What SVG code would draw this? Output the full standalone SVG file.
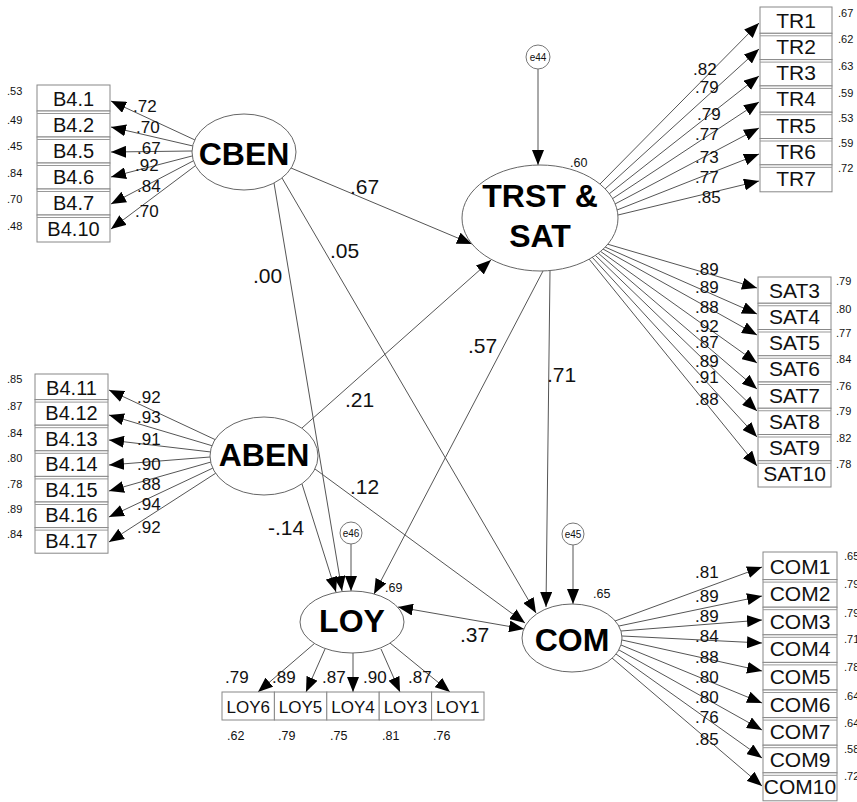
<svg xmlns="http://www.w3.org/2000/svg" width="857" height="802" viewBox="0 0 857 802">
  <defs>
    <marker id="ah" viewBox="0 0 15 12" refX="15" refY="6" markerWidth="15" markerHeight="12" markerUnits="userSpaceOnUse" orient="auto-start-reverse">
      <path d="M0,0 L15,6 L0,12 z" fill="#000"/>
    </marker>
  </defs>
  <style>
    text { font-family: "Liberation Sans", Arial, sans-serif; fill: #111; }
    .lat { font-size: 32px; font-weight: bold; text-anchor: middle; fill: #000; }
    .ell { fill: #fff; stroke: #666; stroke-width: 1; }
    .err { fill: #fff; stroke: #777; stroke-width: 1; }
    .etx { font-size: 10px; text-anchor: middle; }
    .box { fill: #fff; stroke: #888; stroke-width: 1; }
    .sep { stroke: #999; stroke-width: 1; }
    .bl { font-size: 20px; text-anchor: middle; }
    .br { font-size: 21px; text-anchor: middle; }
    .bs { font-size: 17px; text-anchor: middle; }
    .sm { font-size: 11px; }
    .sq { font-size: 12.5px; }
    .ld { font-size: 17px; }
    .pc { font-size: 21px; }
    .cn line { stroke: #555; stroke-width: 1; marker-end: url(#ah); }
  </style>
  <rect width="857" height="802" fill="#fff"/>

  <!-- connectors: loadings, structural paths, error terms -->
  <g id="connectors" class="cn">
    <!-- CBEN loadings -->
    <line x1="195" y1="140" x2="111" y2="101"/>
    <line x1="193" y1="146" x2="111" y2="127"/>
    <line x1="192" y1="151" x2="111" y2="152"/>
    <line x1="192" y1="156" x2="111" y2="177"/>
    <line x1="193" y1="161" x2="111" y2="204"/>
    <line x1="195" y1="166" x2="111" y2="229"/>
    <!-- ABEN loadings -->
    <line x1="216" y1="440" x2="109" y2="390"/>
    <line x1="213" y1="446" x2="109" y2="415"/>
    <line x1="211" y1="452" x2="109" y2="440"/>
    <line x1="210" y1="457" x2="109" y2="465"/>
    <line x1="211" y1="462" x2="109" y2="491"/>
    <line x1="213" y1="468" x2="109" y2="517"/>
    <line x1="216" y1="473" x2="109" y2="542"/>
    <!-- TRST & SAT loadings (trust) -->
    <line x1="600" y1="184" x2="759" y2="23"/>
    <line x1="605" y1="189" x2="759" y2="49"/>
    <line x1="609" y1="194" x2="759" y2="76"/>
    <line x1="612" y1="199" x2="759" y2="102"/>
    <line x1="615" y1="204" x2="759" y2="128"/>
    <line x1="617" y1="210" x2="759" y2="154"/>
    <line x1="618" y1="215" x2="759" y2="181"/>
    <!-- TRST & SAT loadings (satisfaction) -->
    <line x1="607" y1="244" x2="757" y2="288"/>
    <line x1="605" y1="247" x2="757" y2="314"/>
    <line x1="603" y1="249" x2="757" y2="335"/>
    <line x1="600" y1="251" x2="757" y2="363"/>
    <line x1="598" y1="253" x2="757" y2="389"/>
    <line x1="595" y1="255" x2="757" y2="411"/>
    <line x1="592" y1="257" x2="757" y2="437"/>
    <line x1="589" y1="259" x2="757" y2="466"/>
    <!-- COM loadings -->
    <line x1="615" y1="621" x2="762" y2="567"/>
    <line x1="619" y1="626" x2="762" y2="596"/>
    <line x1="621" y1="631" x2="762" y2="620"/>
    <line x1="622" y1="636" x2="762" y2="643"/>
    <line x1="622" y1="640" x2="762" y2="671"/>
    <line x1="621" y1="645" x2="762" y2="703"/>
    <line x1="619" y1="650" x2="762" y2="730"/>
    <line x1="616" y1="654" x2="762" y2="758"/>
    <line x1="612" y1="658" x2="762" y2="786"/>
    <!-- LOY loadings -->
    <line x1="315" y1="643" x2="258" y2="692"/>
    <line x1="325" y1="649" x2="306" y2="692"/>
    <line x1="353" y1="653" x2="353" y2="692"/>
    <line x1="381" y1="649" x2="400" y2="692"/>
    <line x1="390" y1="643" x2="450" y2="692"/>
    <!-- structural paths -->
    <line x1="291" y1="168" x2="472" y2="244"/>
    <line x1="302" y1="428" x2="491" y2="260"/>
    <line x1="274" y1="183" x2="342" y2="591"/>
    <line x1="282" y1="178" x2="536" y2="613"/>
    <line x1="543" y1="271" x2="374" y2="594"/>
    <line x1="550" y1="271" x2="546" y2="607"/>
    <line x1="302" y1="484" x2="336" y2="592"/>
    <line x1="315" y1="469" x2="525" y2="623"/>
    <line x1="398" y1="607" x2="524" y2="629" marker-start="url(#ah)"/>
    <!-- error terms -->
    <line x1="538" y1="69" x2="538" y2="165"/>
    <line x1="351" y1="544" x2="351" y2="591"/>
    <line x1="573" y1="545" x2="573" y2="604"/>

    <!-- path coefficients -->
    <text class="pc" x="350" y="194">.67</text>
    <text class="pc" x="345" y="407">.21</text>
    <text class="pc" x="253" y="283">.00</text>
    <text class="pc" x="330" y="258">.05</text>
    <text class="pc" x="468" y="353">.57</text>
    <text class="pc" x="547" y="382">.71</text>
    <text class="pc" x="268" y="535">-.14</text>
    <text class="pc" x="350" y="494">.12</text>
    <text class="pc" x="460" y="642">.37</text>

    <!-- loading coefficients -->
    <g class="ld">
      <text x="133" y="112">.72</text>
      <text x="136" y="133">.70</text>
      <text x="137" y="154">.67</text>
      <text x="135" y="171">.92</text>
      <text x="137" y="192">.84</text>
      <text x="135" y="217">.70</text>

      <text x="137" y="403">.92</text>
      <text x="137" y="423">.93</text>
      <text x="137" y="445">.91</text>
      <text x="137" y="470">.90</text>
      <text x="137" y="490">.88</text>
      <text x="137" y="510">.94</text>
      <text x="137" y="533">.92</text>

      <text x="693" y="75">.82</text>
      <text x="695" y="93">.79</text>
      <text x="697" y="120">.79</text>
      <text x="695" y="140">.77</text>
      <text x="695" y="163">.73</text>
      <text x="695" y="183">.77</text>
      <text x="697" y="203">.85</text>

      <text x="695" y="275">.89</text>
      <text x="695" y="293">.89</text>
      <text x="695" y="313">.88</text>
      <text x="695" y="332">.92</text>
      <text x="695" y="348">.87</text>
      <text x="695" y="367">.89</text>
      <text x="695" y="383">.91</text>
      <text x="695" y="405">.88</text>

      <text x="695" y="578">.81</text>
      <text x="695" y="602">.89</text>
      <text x="695" y="622">.89</text>
      <text x="695" y="642">.84</text>
      <text x="695" y="663">.88</text>
      <text x="695" y="683">.80</text>
      <text x="695" y="703">.80</text>
      <text x="695" y="723">.76</text>
      <text x="695" y="745">.85</text>

      <text x="225" y="683">.79</text>
      <text x="272" y="683">.89</text>
      <text x="322" y="683">.87</text>
      <text x="363" y="683">.90</text>
      <text x="408" y="683">.87</text>
    </g>
  </g>

  <!-- latent variables -->
  <g id="CBEN">
    <ellipse class="ell" cx="244" cy="152" rx="52" ry="38"/>
    <text class="lat" x="244" y="165">CBEN</text>
  </g>
  <g id="ABEN">
    <ellipse class="ell" cx="264" cy="456" rx="54" ry="39"/>
    <text class="lat" x="264" y="466">ABEN</text>
  </g>
  <g id="TRST_SAT">
    <ellipse class="ell" cx="540" cy="218" rx="78" ry="53"/>
    <text class="lat" x="540" y="207">TRST &amp;</text>
    <text class="lat" x="540" y="247">SAT</text>
    <text class="sq" x="570" y="167">.60</text>
  </g>
  <g id="LOY">
    <ellipse class="ell" cx="352" cy="622" rx="52" ry="31"/>
    <text class="lat" x="352" y="632">LOY</text>
    <text class="sq" x="385" y="592">.69</text>
  </g>
  <g id="COM">
    <ellipse class="ell" cx="572" cy="638" rx="50" ry="34"/>
    <text class="lat" x="572" y="651">COM</text>
    <text class="sq" x="593" y="598">.65</text>
  </g>

  <!-- error terms -->
  <g id="e44">
    <circle class="err" cx="538" cy="57" r="12"/>
    <text class="etx" x="538" y="61">e44</text>
  </g>
  <g id="e46">
    <circle class="err" cx="351" cy="533" r="11"/>
    <text class="etx" x="351" y="537">e46</text>
  </g>
  <g id="e45">
    <circle class="err" cx="573" cy="534" r="11"/>
    <text class="etx" x="573" y="538">e45</text>
  </g>

  <!-- CBEN indicators -->
  <g id="B4_1"><rect class="box" x="37" y="85" width="73" height="26"/><text class="bl" x="73.5" y="105.5">B4.1</text><text class="sm" x="7" y="95">.53</text></g>
  <g id="B4_2"><rect class="box" x="37" y="111" width="73" height="26"/><line class="sep" x1="37" y1="113.5" x2="110" y2="113.5"/><text class="bl" x="73.5" y="131.5">B4.2</text><text class="sm" x="7" y="124">.49</text></g>
  <g id="B4_5"><rect class="box" x="37" y="137" width="73" height="26"/><line class="sep" x1="37" y1="139.5" x2="110" y2="139.5"/><text class="bl" x="73.5" y="157.5">B4.5</text><text class="sm" x="7" y="150">.45</text></g>
  <g id="B4_6"><rect class="box" x="37" y="163" width="73" height="26"/><line class="sep" x1="37" y1="165.5" x2="110" y2="165.5"/><text class="bl" x="73.5" y="183.5">B4.6</text><text class="sm" x="7" y="177">.84</text></g>
  <g id="B4_7"><rect class="box" x="37" y="189" width="73" height="26"/><line class="sep" x1="37" y1="191.5" x2="110" y2="191.5"/><text class="bl" x="73.5" y="209.5">B4.7</text><text class="sm" x="7" y="203">.70</text></g>
  <g id="B4_10"><rect class="box" x="37" y="215" width="73" height="27"/><line class="sep" x1="37" y1="217.5" x2="110" y2="217.5"/><text class="bl" x="73.5" y="236">B4.10</text><text class="sm" x="7" y="230">.48</text></g>

  <!-- ABEN indicators -->
  <g id="B4_11"><rect class="box" x="35" y="374" width="73" height="25.6"/><text class="bl" x="71.5" y="394.5">B4.11</text><text class="sm" x="7" y="383">.85</text></g>
  <g id="B4_12"><rect class="box" x="35" y="399.6" width="73" height="25.6"/><line class="sep" x1="35" y1="402.1" x2="108" y2="402.1"/><text class="bl" x="71.5" y="420">B4.12</text><text class="sm" x="7" y="410">.87</text></g>
  <g id="B4_13"><rect class="box" x="35" y="425.2" width="73" height="25.6"/><line class="sep" x1="35" y1="427.7" x2="108" y2="427.7"/><text class="bl" x="71.5" y="445.5">B4.13</text><text class="sm" x="7" y="437">.84</text></g>
  <g id="B4_14"><rect class="box" x="35" y="450.8" width="73" height="25.6"/><line class="sep" x1="35" y1="453.3" x2="108" y2="453.3"/><text class="bl" x="71.5" y="471">B4.14</text><text class="sm" x="7" y="462">.80</text></g>
  <g id="B4_15"><rect class="box" x="35" y="476.4" width="73" height="25.6"/><line class="sep" x1="35" y1="478.9" x2="108" y2="478.9"/><text class="bl" x="71.5" y="496.7">B4.15</text><text class="sm" x="7" y="488">.78</text></g>
  <g id="B4_16"><rect class="box" x="35" y="502" width="73" height="25.6"/><line class="sep" x1="35" y1="504.5" x2="108" y2="504.5"/><text class="bl" x="71.5" y="522.3">B4.16</text><text class="sm" x="7" y="513">.89</text></g>
  <g id="B4_17"><rect class="box" x="35" y="527.6" width="73" height="25.6"/><line class="sep" x1="35" y1="530.1" x2="108" y2="530.1"/><text class="bl" x="71.5" y="548">B4.17</text><text class="sm" x="7" y="538">.84</text></g>

  <!-- trust indicators -->
  <g id="TR1"><rect class="box" x="760" y="7" width="72" height="26.3"/><text class="br" x="796" y="28">TR1</text><text class="sm" x="838" y="17">.67</text></g>
  <g id="TR2"><rect class="box" x="760" y="33.3" width="72" height="26.3"/><line class="sep" x1="760" y1="35.8" x2="832" y2="35.8"/><text class="br" x="796" y="54">TR2</text><text class="sm" x="838" y="43">.62</text></g>
  <g id="TR3"><rect class="box" x="760" y="59.6" width="72" height="26.3"/><line class="sep" x1="760" y1="62.1" x2="832" y2="62.1"/><text class="br" x="796" y="80">TR3</text><text class="sm" x="838" y="70">.63</text></g>
  <g id="TR4"><rect class="box" x="760" y="85.9" width="72" height="26.3"/><line class="sep" x1="760" y1="88.4" x2="832" y2="88.4"/><text class="br" x="796" y="106">TR4</text><text class="sm" x="838" y="97">.59</text></g>
  <g id="TR5"><rect class="box" x="760" y="112.2" width="72" height="26.3"/><line class="sep" x1="760" y1="114.7" x2="832" y2="114.7"/><text class="br" x="796" y="132.5">TR5</text><text class="sm" x="838" y="122">.53</text></g>
  <g id="TR6"><rect class="box" x="760" y="138.5" width="72" height="26.3"/><line class="sep" x1="760" y1="141" x2="832" y2="141"/><text class="br" x="796" y="159">TR6</text><text class="sm" x="838" y="147">.59</text></g>
  <g id="TR7"><rect class="box" x="760" y="164.8" width="72" height="27"/><line class="sep" x1="760" y1="167.3" x2="832" y2="167.3"/><text class="br" x="796" y="185.5">TR7</text><text class="sm" x="838" y="172">.72</text></g>

  <!-- satisfaction indicators -->
  <g id="SAT3"><rect class="box" x="758" y="277" width="73" height="26.25"/><text class="br" x="794.5" y="297.5">SAT3</text><text class="sm" x="836" y="285">.79</text></g>
  <g id="SAT4"><rect class="box" x="758" y="303.25" width="73" height="26.25"/><line class="sep" x1="758" y1="305.75" x2="831" y2="305.75"/><text class="br" x="794.5" y="323.75">SAT4</text><text class="sm" x="836" y="313">.80</text></g>
  <g id="SAT5"><rect class="box" x="758" y="329.5" width="73" height="26.25"/><line class="sep" x1="758" y1="332" x2="831" y2="332"/><text class="br" x="794.5" y="350">SAT5</text><text class="sm" x="836" y="337">.77</text></g>
  <g id="SAT6"><rect class="box" x="758" y="355.75" width="73" height="26.25"/><line class="sep" x1="758" y1="358.25" x2="831" y2="358.25"/><text class="br" x="794.5" y="376.25">SAT6</text><text class="sm" x="836" y="363">.84</text></g>
  <g id="SAT7"><rect class="box" x="758" y="382" width="73" height="26.25"/><line class="sep" x1="758" y1="384.5" x2="831" y2="384.5"/><text class="br" x="794.5" y="402.5">SAT7</text><text class="sm" x="836" y="390">.76</text></g>
  <g id="SAT8"><rect class="box" x="758" y="408.25" width="73" height="26.25"/><line class="sep" x1="758" y1="410.75" x2="831" y2="410.75"/><text class="br" x="794.5" y="428.75">SAT8</text><text class="sm" x="836" y="415">.79</text></g>
  <g id="SAT9"><rect class="box" x="758" y="434.5" width="73" height="26.25"/><line class="sep" x1="758" y1="437" x2="831" y2="437"/><text class="br" x="794.5" y="455">SAT9</text><text class="sm" x="836" y="442">.82</text></g>
  <g id="SAT10"><rect class="box" x="758" y="460.75" width="73" height="26.25"/><line class="sep" x1="758" y1="463.25" x2="831" y2="463.25"/><text class="br" x="794.5" y="481.25">SAT10</text><text class="sm" x="836" y="468">.78</text></g>

  <!-- commitment indicators -->
  <g id="COM1"><rect class="box" x="763" y="552" width="74" height="27.6"/><text class="br" x="800" y="573.5">COM1</text><text class="sm" x="844" y="560">.65</text></g>
  <g id="COM2"><rect class="box" x="763" y="579.6" width="74" height="27.6"/><line class="sep" x1="763" y1="582.1" x2="837" y2="582.1"/><text class="br" x="800" y="601.1">COM2</text><text class="sm" x="844" y="588">.79</text></g>
  <g id="COM3"><rect class="box" x="763" y="607.2" width="74" height="27.6"/><line class="sep" x1="763" y1="609.7" x2="837" y2="609.7"/><text class="br" x="800" y="628.7">COM3</text><text class="sm" x="844" y="617">.79</text></g>
  <g id="COM4"><rect class="box" x="763" y="634.8" width="74" height="27.6"/><line class="sep" x1="763" y1="637.3" x2="837" y2="637.3"/><text class="br" x="800" y="656.3">COM4</text><text class="sm" x="844" y="643">.71</text></g>
  <g id="COM5"><rect class="box" x="763" y="662.4" width="74" height="27.6"/><line class="sep" x1="763" y1="664.9" x2="837" y2="664.9"/><text class="br" x="800" y="683.9">COM5</text><text class="sm" x="844" y="671">.78</text></g>
  <g id="COM6"><rect class="box" x="763" y="690" width="74" height="27.6"/><line class="sep" x1="763" y1="692.5" x2="837" y2="692.5"/><text class="br" x="800" y="711.5">COM6</text><text class="sm" x="844" y="700">.64</text></g>
  <g id="COM7"><rect class="box" x="763" y="717.6" width="74" height="27.6"/><line class="sep" x1="763" y1="720.1" x2="837" y2="720.1"/><text class="br" x="800" y="739.1">COM7</text><text class="sm" x="844" y="727">.64</text></g>
  <g id="COM9"><rect class="box" x="763" y="745.2" width="74" height="27.6"/><line class="sep" x1="763" y1="747.7" x2="837" y2="747.7"/><text class="br" x="800" y="766.7">COM9</text><text class="sm" x="844" y="753">.58</text></g>
  <g id="COM10"><rect class="box" x="763" y="772.8" width="74" height="28"/><line class="sep" x1="763" y1="775.3" x2="837" y2="775.3"/><text class="br" x="800" y="794.3">COM10</text><text class="sm" x="844" y="780">.72</text></g>

  <!-- loyalty indicators -->
  <g id="LOY6"><rect class="box" x="222" y="692" width="52.4" height="28"/><text class="bs" x="248.2" y="712.5">LOY6</text><text class="sq" x="227" y="740">.62</text></g>
  <g id="LOY5"><rect class="box" x="274.4" y="692" width="52.4" height="28"/><text class="bs" x="300.6" y="712.5">LOY5</text><text class="sq" x="278" y="740">.79</text></g>
  <g id="LOY4"><rect class="box" x="326.8" y="692" width="52.4" height="28"/><text class="bs" x="353" y="712.5">LOY4</text><text class="sq" x="330" y="740">.75</text></g>
  <g id="LOY3"><rect class="box" x="379.2" y="692" width="52.4" height="28"/><text class="bs" x="405.4" y="712.5">LOY3</text><text class="sq" x="382" y="740">.81</text></g>
  <g id="LOY1"><rect class="box" x="431.6" y="692" width="52.4" height="28"/><text class="bs" x="457.8" y="712.5">LOY1</text><text class="sq" x="433" y="740">.76</text></g>
</svg>
